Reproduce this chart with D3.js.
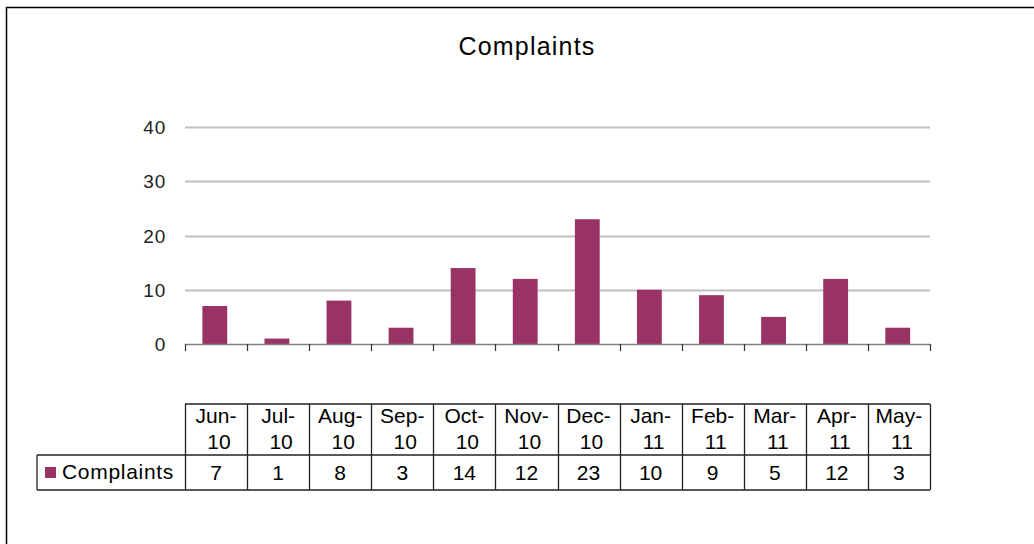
<!DOCTYPE html>
<html><head><meta charset="utf-8">
<script src="https://cdn.jsdelivr.net/npm/d3@7"></script>
<style>body{margin:0;background:#fff}svg{display:block}text{font-family:Arial,"Liberation Sans",sans-serif}</style>
</head><body>
<script>
const categories = ["Jun-10","Jul-10","Aug-10","Sep-10","Oct-10","Nov-10","Dec-10","Jan-11","Feb-11","Mar-11","Apr-11","May-11"];
const complaints = [7,1,8,3,14,12,23,10,9,5,12,3];
const yTicks = [0,10,20,30,40];
const seriesName = "Complaints";

const W=1034,H=544;
const svg=d3.select("body").append("svg").attr("width",W).attr("height",H);
svg.append("rect").attr("x",0).attr("y",0).attr("width",W).attr("height",H).attr("fill","#fff");
svg.append("path").attr("d","M6.5,544 V7.5 H1034").attr("fill","none").attr("stroke","#000").attr("stroke-width",1.5);

const x=d3.scaleBand().domain(categories).range([185,930]).paddingInner(0).paddingOuter(0);
const y=d3.scaleLinear().domain([0,40]).range([344,127]);

svg.append("text").attr("x",527).attr("y",55).attr("text-anchor","middle").attr("font-size",25)
 .attr("letter-spacing",1.2).attr("fill","#000").text("Complaints");

// gridlines
svg.append("g").selectAll("line").data(yTicks.filter(d=>d>0)).join("line")
 .attr("x1",185).attr("x2",930).attr("y1",d=>Math.round(y(d))+0.5).attr("y2",d=>Math.round(y(d))+0.5)
 .attr("stroke","#c0c0c0").attr("stroke-width",2);

// y labels
svg.append("g").selectAll("text").data(yTicks).join("text")
 .attr("x",166).attr("y",d=>y(d)+7).attr("text-anchor","end").attr("font-size",19).attr("letter-spacing",0.8)
 .attr("fill","#222").text(d=>d);

// bars
const bw=x.bandwidth()*0.4;
svg.append("g").selectAll("rect").data(complaints).join("rect")
 .attr("x",(d,i)=>x(categories[i])+x.bandwidth()*0.28).attr("width",bw)
 .attr("y",d=>y(d)).attr("height",d=>y(0)-y(d)).attr("fill","#993366");

// x axis
const g=svg.append("g");
g.append("line").attr("x1",185).attr("x2",930).attr("y1",344.5).attr("y2",344.5).attr("stroke","#808080").attr("stroke-width",1.5);
const bounds=categories.map(c=>x(c)).concat([x.range()[1]]);
g.selectAll("line.t").data(bounds).join("line").attr("class","t")
 .attr("x1",d=>Math.round(d)+0.5).attr("x2",d=>Math.round(d)+0.5).attr("y1",344).attr("y2",351).attr("stroke","#333").attr("stroke-width",1.2);

// data table
const tTop=404,tMid=455,tBot=490,labelLeft=37;
const tb=svg.append("g");
categories.forEach((c,i)=>{
  const x0=x(c),w=x.bandwidth(),cx=x0+w/2;
  const parts=c.split("-");
  tb.append("text").attr("x",cx).attr("y",423).attr("text-anchor","middle").attr("font-size",21).attr("fill","#000").text(parts[0]+"-");
  tb.append("text").attr("x",cx+3).attr("y",449).attr("text-anchor","middle").attr("font-size",21).attr("fill","#000").text(parts[1]);
  tb.append("text").attr("x",cx).attr("y",480).attr("text-anchor","middle").attr("font-size",21).attr("fill","#000").text(complaints[i]);
});
function ln(x1,y1,x2,y2){tb.append("line").attr("x1",x1).attr("y1",y1).attr("x2",x2).attr("y2",y2).attr("stroke","#222").attr("stroke-width",1.3);}
ln(185,tTop,930,tTop);
ln(labelLeft,tMid,930,tMid);
ln(labelLeft,tBot,930,tBot);
ln(labelLeft,tMid,labelLeft,tBot);
bounds.forEach(b=>ln(Math.round(b)+0.5,tTop,Math.round(b)+0.5,tBot));
tb.append("rect").attr("x",45).attr("y",467).attr("width",11).attr("height",11).attr("fill","#993366");
tb.append("text").attr("x",62).attr("y",479).attr("font-size",21).attr("letter-spacing",0.7).attr("fill","#000").text(seriesName);
</script>
</body></html>
